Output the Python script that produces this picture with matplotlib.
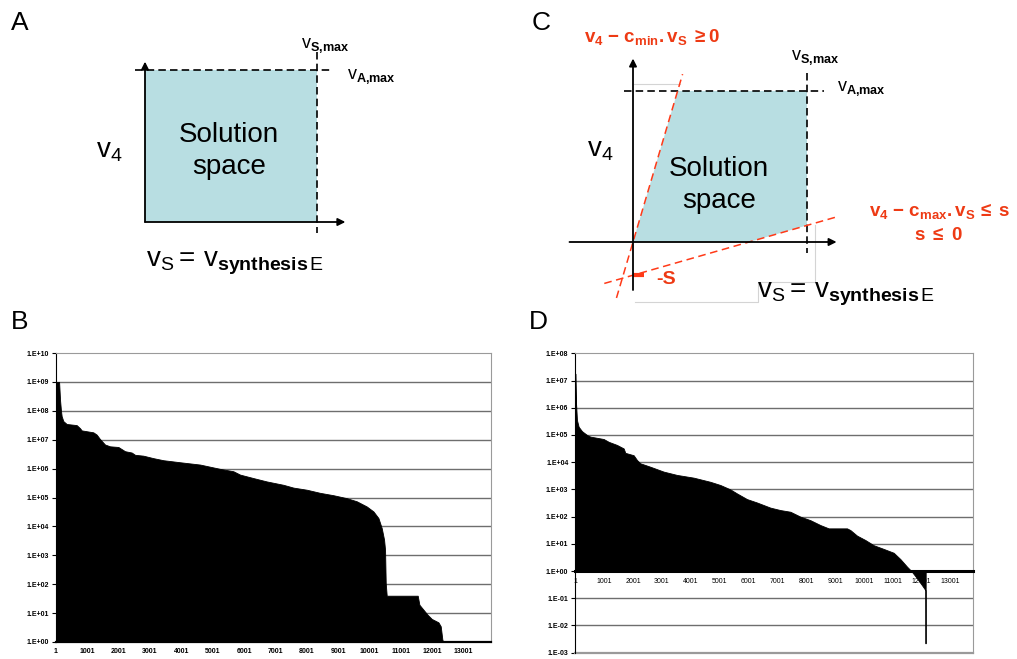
import matplotlib
matplotlib.use("Agg")
import matplotlib.pyplot as plt
from matplotlib.ticker import NullLocator
import numpy as np

plt.rcParams['font.family'] = ['Liberation Sans', 'DejaVu Sans']
plt.rcParams['mathtext.fontset'] = 'custom'
plt.rcParams['mathtext.rm'] = 'Liberation Sans'
plt.rcParams['mathtext.bf'] = 'Liberation Sans:bold'
plt.rcParams['mathtext.it'] = 'Liberation Sans:italic'
plt.rcParams['mathtext.sf'] = 'Liberation Sans'

W, H = 1017, 659

# --- schematic constraint values (model units, v_S,max = v_A,max = 1) ---
VS_MAX = 1.0
VA_MAX = 1.0
C_MIN = 3.9      # slope of v4 - c_min.vS >= 0
C_MAX = 0.33     # slope of v4 - c_max.vS <= s
S_OFF = -0.22    # s <= 0

# --- panel B: sorted flux ratios (log scale) ---
b_index = [1, 100, 130, 160, 182, 235, 341, 660, 767, 820, 1192, 1299, 1405, 1565,
           1725, 1990, 2203, 2416, 2522, 2788, 3107, 3426, 3958, 4597, 5235, 5660,
           5873, 6299, 6724, 7256, 7575, 8001, 8426, 8852, 9277, 9596, 9915, 10128,
           10288, 10394, 10468, 10500, 10521, 10553, 11542, 11595, 11723, 11851,
           11989, 12202, 12276, 12329, 12361, 13880]
b_value = [1e9, 1e9, 2.4e8, 1.0e8, 6.5e7, 4.4e7, 3.5e7, 3.2e7, 2.5e7, 2.1e7, 1.8e7,
           1.5e7, 1.05e7, 6.8e6, 5.9e6, 5.6e6, 4.0e6, 3.6e6, 3.0e6, 2.8e6, 2.3e6,
           1.95e6, 1.66e6, 1.38e6, 9.8e5, 8.1e5, 6.2e5, 4.7e5, 3.6e5, 2.75e5, 2.2e5,
           1.86e5, 1.45e5, 1.2e5, 9.5e4, 7.4e4, 4.9e4, 3.3e4, 1.95e4, 8.7e3, 3.5e3,
           1.55e3, 110, 40, 40, 19.5, 13.2, 8.9, 6.3, 4.8, 3.5, 1.2, 1.0, 1.0]

# --- panel D: sorted flux ratios with constraints ---
d_index = [1, 24, 59, 117, 232, 405, 521, 983, 1157, 1445, 1677, 1734, 2023, 2139,
           2254, 2601, 3063, 3525, 4103, 4681, 5028, 5374, 5605, 5952, 6299, 6761,
           7108, 7455, 7800, 8148, 8494, 8783, 9419, 9535, 9766, 10054, 10343, 10690,
           11036, 11268, 11499, 11649, 11845, 12019, 12134, 12140, 12146, 13775]
d_value = [1.8e7, 1.66e6, 3.5e5, 2.0e5, 1.38e5, 1.0e5, 8.7e4, 7.1e4, 5.6e4, 4.3e4,
           3.2e4, 2.2e4, 1.8e4, 1.2e4, 9.1e3, 6.8e3, 4.5e3, 3.4e3, 2.7e3, 1.9e3,
           1.45e3, 1.0e3, 710, 440, 330, 214, 174, 151, 100, 74, 49, 37, 37, 32, 20,
           13.8, 8.9, 6.5, 4.7, 2.75, 1.45, 1.0, 0.54, 0.30, 0.20, 0.0022, 1.0, 1.0]

x_ticks = [1, 1001, 2001, 3001, 4001, 5001, 6001, 7001, 8001, 9001, 10001, 11001,
           12001, 13001]
b_exponents = list(range(0, 11))
d_exponents = list(range(-3, 9))

RED = '#ee3a14'
RED_LINE = '#ff3a18'
FILL = '#b8dee2'
GRID = '#6e6e6e'

fig = plt.figure(figsize=(W / 100, H / 100), dpi=100)

# overlay in pixel coordinates for the two schematics
ov = fig.add_axes([0, 0, 1, 1])
ov.set_xlim(0, W)
ov.set_ylim(H, 0)
ov.axis('off')


def mapper(ox, oy, sx, sy):
    return lambda vs, v4: (ox + vs * sx, oy - v4 * sy)


def arrow(p0, p1):
    ov.annotate('', xy=p1, xytext=p0,
                arrowprops=dict(arrowstyle='-|>', color='black', lw=1.3,
                                mutation_scale=11, shrinkA=0, shrinkB=0))


def dashed(p0, p1, color='black', lw=1.2):
    ov.plot([p0[0], p1[0]], [p0[1], p1[1]], color=color, lw=lw,
            ls=(0, (4.5, 2.5)))


big = 20
lab = 13
VSMAX_TXT = r'$\mathrm{v}_{\mathbf{S{,}max}}$'
VAMAX_TXT = r'$\mathrm{v}_{\mathbf{A{,}max}}$'
V4_TXT = r'$\mathrm{v}_{4}$'
VS_TXT = r'$\mathrm{v}_{\mathrm{S}}=\,\mathrm{v}_{\mathbf{synthesis}\,\mathrm{E}}$'

# ---------------- panel A ----------------
A = mapper(145, 222, 172, 152)
rect = [A(0, 0), A(VS_MAX, 0), A(VS_MAX, VA_MAX), A(0, VA_MAX)]
ov.add_patch(plt.Polygon(rect, closed=True, facecolor=FILL, edgecolor='none'))
arrow(A(0, 0), A(1.165, 0))
arrow(A(0, 0), A(0, 1.055))
dashed(A(-0.06, VA_MAX), A(1.09, VA_MAX))
dashed(A(VS_MAX, 1.12), A(VS_MAX, -0.07))
ov.text(11, 23, 'A', fontsize=19, va='center', ha='left')
ov.text(301, 46, VSMAX_TXT, fontsize=lab, va='center')
ov.text(347, 77, VAMAX_TXT, fontsize=lab, va='center')
ov.text(96, 151, V4_TXT, fontsize=big, va='center')
ov.text(229, 151, 'Solution\nspace', fontsize=big, ha='center', va='center',
        linespacing=1.35)
ov.text(146, 263, VS_TXT, fontsize=big, va='center')

# ---------------- panel C ----------------
C = mapper(633, 242, 174, 151)
poly = [C(0, 0), C(VA_MAX / C_MIN, VA_MAX), C(VS_MAX, VA_MAX),
        C(VS_MAX, C_MAX * VS_MAX + S_OFF), C(-S_OFF / C_MAX, 0)]
ov.add_patch(plt.Polygon(poly, closed=True, facecolor=FILL, edgecolor='none'))

# faint leftover frame lines
ov.plot([634, 680], [84, 84], color='#d4d4d4', lw=0.8)
ov.plot([815, 815, 758, 758, 635], [225, 282, 282, 302, 302], color='#d4d4d4', lw=0.8)

arrow(C(-0.365, 0), C(1.17, 0))
arrow(C(0, -0.318), C(0, 1.215))
dashed(C(-0.05, VA_MAX), C(1.1, VA_MAX))
dashed(C(VS_MAX, 1.12), C(VS_MAX, -0.07))

vs = np.array([-0.095, 0.285])
ov.plot(*C(vs, C_MIN * vs), color=RED_LINE, lw=1.1, ls=(0, (5, 3)))
vs = np.array([-0.165, 1.175])
ov.plot(*C(vs, C_MAX * vs + S_OFF), color=RED_LINE, lw=1.1, ls=(0, (5, 3)))
ov.plot(*C(np.array([0, 0.065]), np.array([S_OFF, S_OFF])), color=RED_LINE, lw=3,
        solid_capstyle='butt')
ov.text(656, 280, '-S', fontsize=14, fontweight='bold', color=RED, va='center')

ov.text(532, 23, 'C', fontsize=19, va='center', ha='left')
ov.text(584, 37, r'$\mathbf{v}_{\mathbf{4}}\ \mathbf{-}\ \mathbf{c}_{\mathbf{min}}'
        r'\mathbf{.v}_{\mathbf{S}}\ \mathbf{\geq0}$', fontsize=13.5, color=RED,
        va='center')
ov.text(869, 211, r'$\mathbf{v}_{\mathbf{4}}\ \mathbf{-}\ \mathbf{c}_{\mathbf{max}}'
        r'\mathbf{.v}_{\mathbf{S}}\,\mathbf{\leq\ s}$', fontsize=13.5, color=RED,
        va='center')
ov.text(939, 236, r'$\mathbf{s\ \leq\ 0}$', fontsize=13.5, color=RED, va='center',
        ha='center')
ov.text(791, 58, VSMAX_TXT, fontsize=lab, va='center')
ov.text(837, 89, VAMAX_TXT, fontsize=lab, va='center')
ov.text(587, 150, V4_TXT, fontsize=big, va='center')
ov.text(719, 185, 'Solution\nspace', fontsize=big, ha='center', va='center',
        linespacing=1.35)
ov.text(757, 294, VS_TXT, fontsize=big, va='center')

ov.text(11, 322, 'B', fontsize=19, va='center', ha='left')
ov.text(529, 322, 'D', fontsize=19, va='center', ha='left')


def exp_label(k):
    return f"1.E{k:+03d}"


def style_bar_axes(ax, exps, xmax):
    ax.set_yscale('log')
    ax.set_xlim(1, xmax)
    ax.set_ylim(10.0 ** exps[0], 10.0 ** exps[-1])
    ax.set_yticks([10.0 ** k for k in exps])
    ax.set_yticklabels([exp_label(k) for k in exps], fontweight='bold')
    ax.yaxis.set_minor_locator(NullLocator())
    ax.xaxis.set_minor_locator(NullLocator())
    ax.set_xticks(x_ticks)
    ax.set_xticklabels([str(t) for t in x_ticks], fontweight='bold')
    for k in exps[1:-1]:
        ax.axhline(10.0 ** k, color=GRID, lw=1.0, zorder=0)
    ax.tick_params(axis='y', length=3, width=0.8, pad=2, labelsize=5)
    ax.tick_params(axis='x', length=0, pad=4, labelsize=5)
    ax.spines['top'].set_color('#9a9a9a')
    ax.spines['right'].set_color('#9a9a9a')
    ax.spines['left'].set_color('black')


# ---------------- panel B ----------------
axb = fig.add_axes([56 / W, 1 - 642 / H, 435 / W, 289 / H])
style_bar_axes(axb, b_exponents, 13880)
axb.fill_between(b_index, 1.0, b_value, color='black', lw=0.6, zorder=2)
axb.spines['bottom'].set_color('black')
axb.spines['bottom'].set_linewidth(1.6)

# ---------------- panel D ----------------
axd = fig.add_axes([575.3 / W, 1 - 652.7 / H, 397.4 / W, 299.4 / H])
style_bar_axes(axd, d_exponents, 13775)
axd.fill_between(d_index, 1.0, d_value, color='black', lw=0.6, zorder=2)
axd.spines['bottom'].set_position(('data', 1.0))
axd.spines['bottom'].set_color('black')
axd.spines['bottom'].set_linewidth(2.2)
axd.spines['bottom'].set_zorder(3)
axd.tick_params(axis='x', pad=5)
axd.axhline(1e-3, color='#9a9a9a', lw=1.6, clip_on=False)

fig.savefig('out.png', dpi=100)
